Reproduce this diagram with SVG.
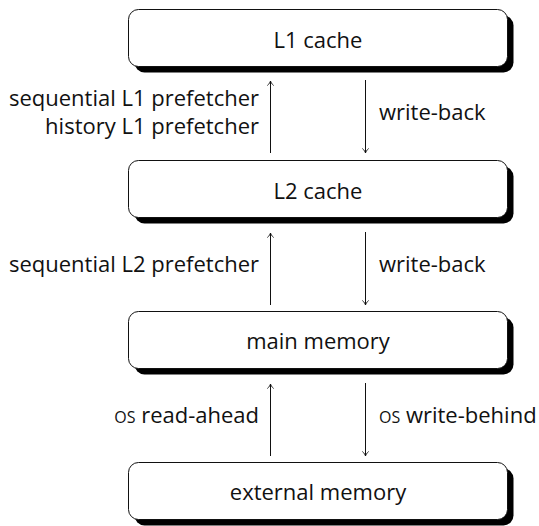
<svg xmlns="http://www.w3.org/2000/svg" width="539" height="526" viewBox="0 0 539 526">
<style>
text{font-family:"Open Sans","Liberation Sans",sans-serif;font-size:22px;fill:#111}
.box{fill:#fff;stroke:#111;stroke-width:1}
.shadow{fill:#000}
.c{text-anchor:middle}
.r{text-anchor:end}
.sc{font-size:16px}
.conn line{stroke:#111;stroke-width:1;fill:none}
</style>
<defs>
<marker id="ah" viewBox="-6 -5 8 10" refX="0" refY="0" markerWidth="8" markerHeight="10" markerUnits="userSpaceOnUse" orient="auto">
<path d="M-4.5,-3.2 C-3,-1.2 -1,-0.3 0,0 C-1,0.3 -3,1.2 -4.5,3.2" fill="none" stroke="#111" stroke-width="0.9"/>
</marker>
</defs>
<g id="l1">
<rect class="shadow" x="134.5" y="15.5" width="379" height="57" rx="10"/>
<rect class="box" x="128.5" y="9.5" width="379" height="57" rx="10"/>
<text class="c" x="318" y="47.5">L1 cache</text>
</g>
<g id="l2">
<rect class="shadow" x="134.5" y="166.5" width="379" height="57" rx="10"/>
<rect class="box" x="128.5" y="160.5" width="379" height="57" rx="10"/>
<text class="c" x="318" y="198.5">L2 cache</text>
</g>
<g id="main">
<rect class="shadow" x="134.5" y="317.5" width="379" height="57" rx="10"/>
<rect class="box" x="128.5" y="311.5" width="379" height="57" rx="10"/>
<text class="c" x="318" y="348.5">main memory</text>
</g>
<g id="ext">
<rect class="shadow" x="134.5" y="468.5" width="379" height="57" rx="10"/>
<rect class="box" x="128.5" y="462.5" width="379" height="57" rx="10"/>
<text class="c" x="318" y="499.5">external memory</text>
</g>
<g class="conn">
<line x1="270.5" y1="153" x2="270.5" y2="81" marker-end="url(#ah)"/>
<line x1="365.5" y1="80" x2="365.5" y2="153" marker-end="url(#ah)"/>
<line x1="270.5" y1="305" x2="270.5" y2="233" marker-end="url(#ah)"/>
<line x1="365.5" y1="232" x2="365.5" y2="305" marker-end="url(#ah)"/>
<line x1="270.5" y1="456" x2="270.5" y2="384" marker-end="url(#ah)"/>
<line x1="365.5" y1="383" x2="365.5" y2="456" marker-end="url(#ah)"/>
</g>
<g id="labels">
<text class="r" x="259" y="106">sequential L1 prefetcher</text>
<text class="r" x="259" y="134">history L1 prefetcher</text>
<text x="379" y="120">write-back</text>
<text class="r" x="259" y="272">sequential L2 prefetcher</text>
<text x="379" y="272">write-back</text>
<text class="r" x="259" y="423"><tspan class="sc">OS</tspan> read-ahead</text>
<text x="379" y="423"><tspan class="sc">OS</tspan> write-behind</text>
</g>
</svg>
